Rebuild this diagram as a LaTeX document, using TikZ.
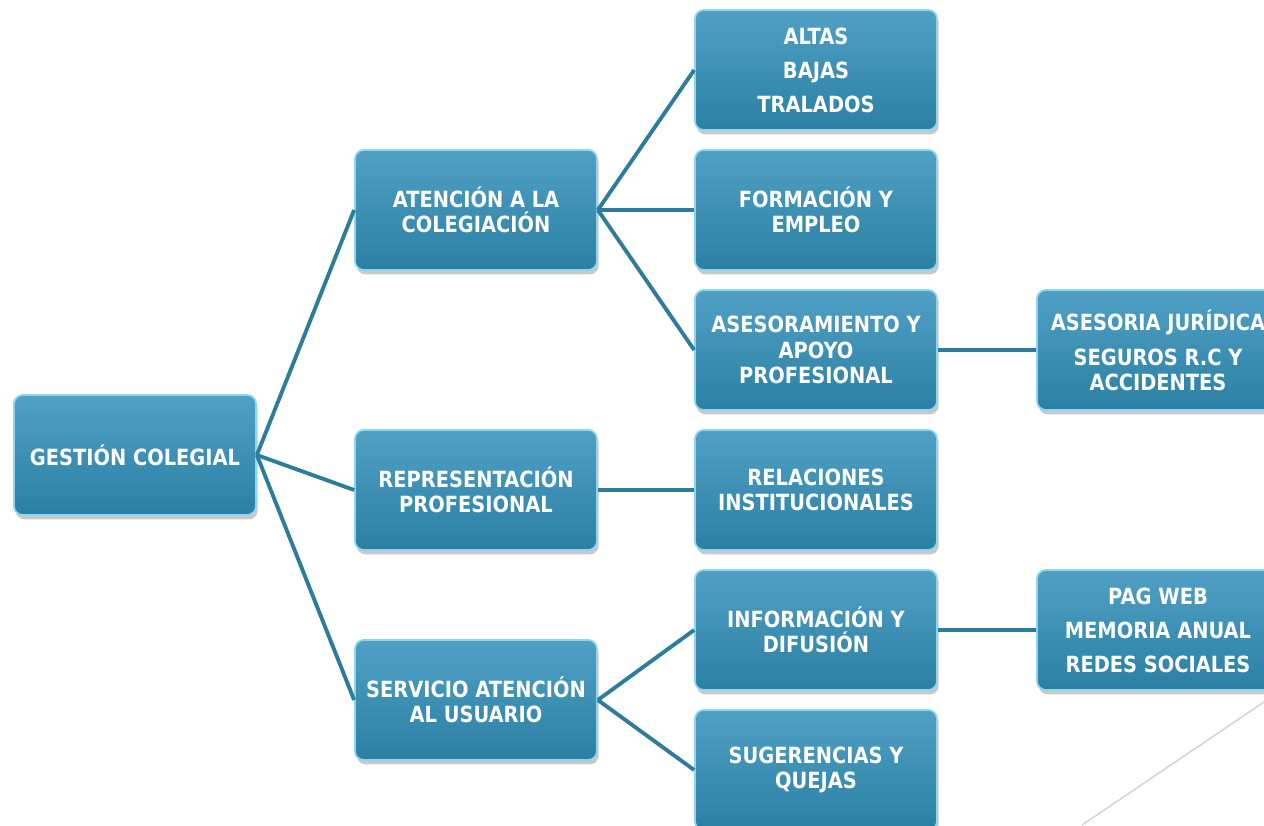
\documentclass[tikz,border=0pt]{standalone}
\usepackage{fontspec}
\setmainfont{DejaVu Sans}[FakeStretch=0.87]
\usetikzlibrary{shadows}
\definecolor{boxtop}{RGB}{80,160,196}
\definecolor{boxbot}{RGB}{42,128,164}
\definecolor{boxedge}{RGB}{140,214,238}
\definecolor{linkcol}{RGB}{44,124,156}
\begin{document}
\begin{tikzpicture}[x=0.02cm, y=-0.02cm,
    caja/.style={rounded corners=5pt, top color=boxtop, bottom color=boxbot,
        draw=boxedge, line width=1pt, minimum width=4.84cm, minimum height=2.4cm,
        inner sep=0pt, align=center, text=white, font=\fontsize{12.7}{14.4}\selectfont\bfseries,
        drop shadow={shadow xshift=1pt, shadow yshift=-2.5pt, opacity=0.3, fill=black!70}},
    enlace/.style={draw=linkcol, line width=2.2pt}]
    \useasboundingbox (0,0) rectangle (1264,825);
    \clip (0,0) rectangle (1264,825);
    % Gestión colegial y sus áreas
    \node[caja] (ges) at (135,455) {GESTIÓN COLEGIAL};
    \node[caja] (aten) at (476,210) {ATENCIÓN A LA\\COLEGIACIÓN};
    \node[caja] (repr) at (476,490) {REPRESENTACIÓN\\PROFESIONAL};
    \node[caja] (serv) at (476,700) {SERVICIO ATENCIÓN\\AL USUARIO};

    \node[caja] (altas) at (816,70) {ALTAS\\[5pt]BAJAS\\[5pt]TRALADOS};
    \node[caja] (form) at (816,210) {FORMACIÓN Y\\EMPLEO};
    \node[caja] (ases) at (816,350) {ASESORAMIENTO Y\\APOYO\\PROFESIONAL};
    \node[caja] (rel) at (816,490) {RELACIONES\\INSTITUCIONALES};
    \node[caja] (info) at (816,630) {INFORMACIÓN Y\\DIFUSIÓN};
    \node[caja] (sug) at (816,770) {SUGERENCIAS Y\\QUEJAS};

    \node[caja] (jur) at (1158,350) {ASESORIA JURÍDICA\\[5.5pt]SEGUROS R.C Y\\ACCIDENTES};
    \node[caja] (web) at (1158,630) {PAG WEB\\[5pt]MEMORIA ANUAL\\[5pt]REDES SOCIALES};

    \draw[enlace] (ges.east) -- (aten.west);
    \draw[enlace] (ges.east) -- (repr.west);
    \draw[enlace] (ges.east) -- (serv.west);
    \draw[enlace] (aten.east) -- (altas.west);
    \draw[enlace] (aten.east) -- (form.west);
    \draw[enlace] (aten.east) -- (ases.west);
    \draw[enlace] (repr.east) -- (rel.west);
    \draw[enlace] (serv.east) -- (info.west);
    \draw[enlace] (serv.east) -- (sug.west);
    \draw[enlace] (ases.east) -- (jur.west);
    \draw[enlace] (info.east) -- (web.west);

    \draw[gray!35, line width=0.8pt] (1264,702) -- (1082,825);
\end{tikzpicture}
\end{document}
